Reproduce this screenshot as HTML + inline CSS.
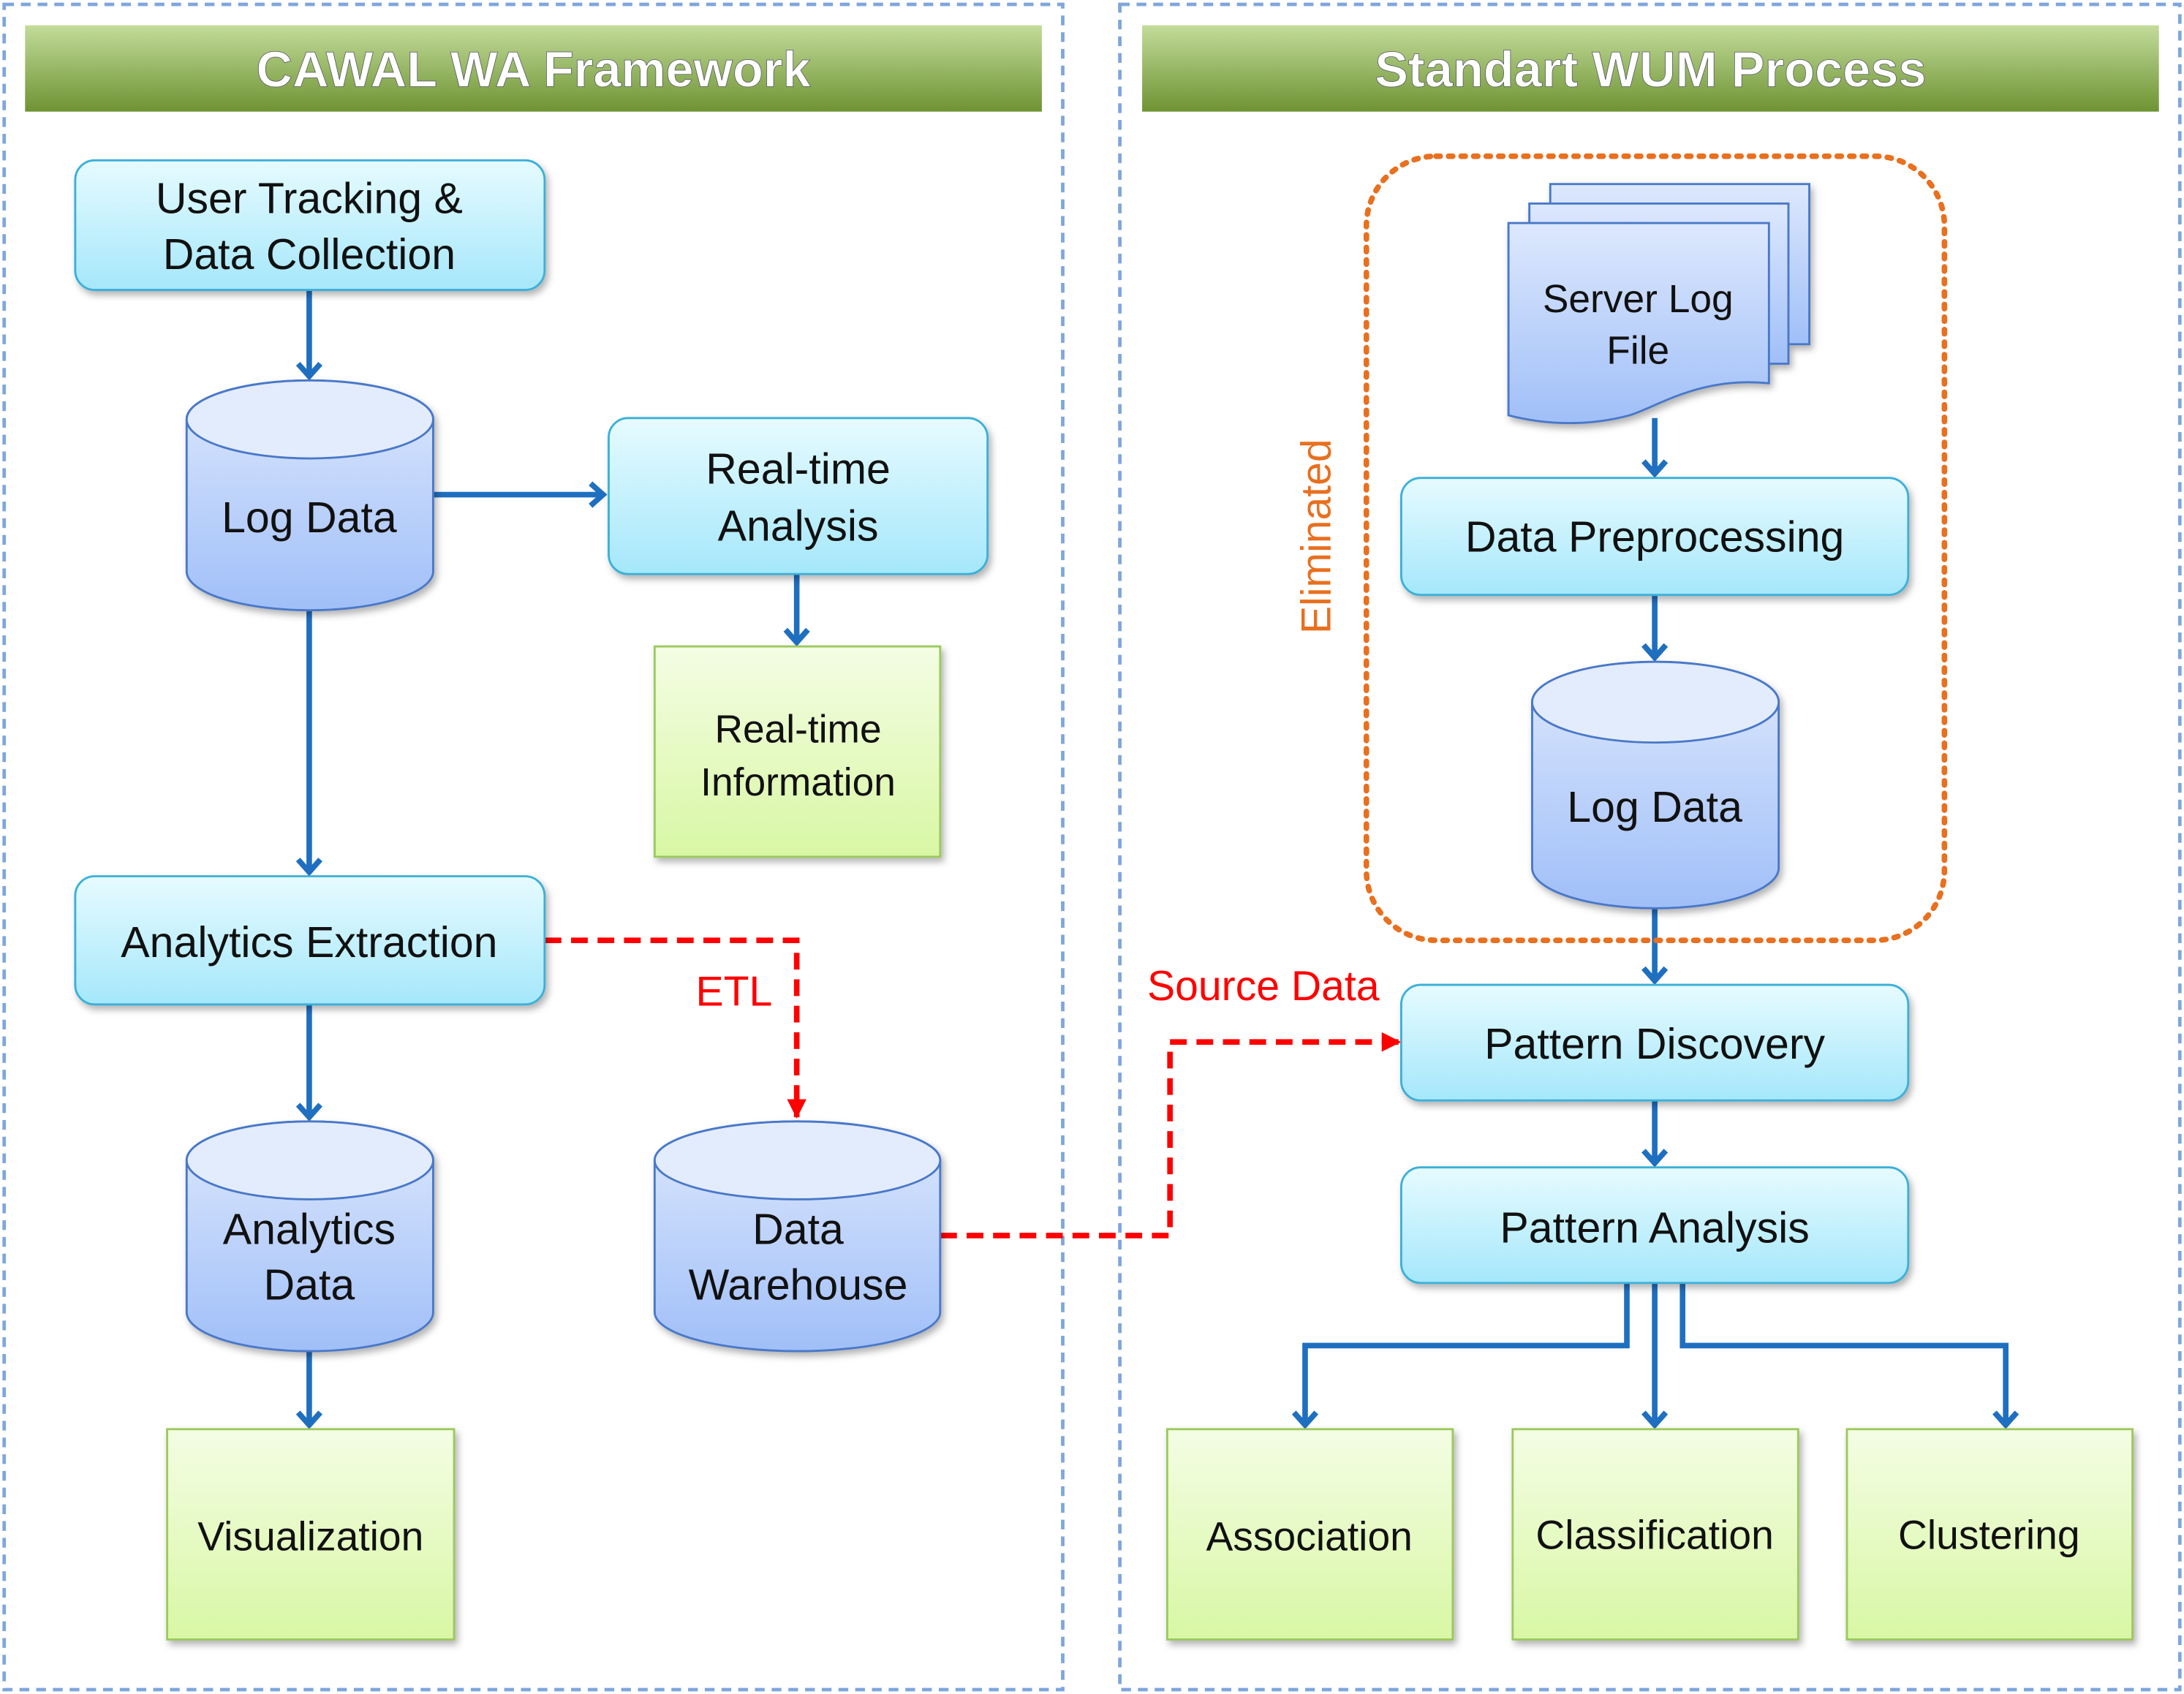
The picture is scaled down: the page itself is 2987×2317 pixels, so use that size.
<!DOCTYPE html>
<html><head><meta charset="utf-8">
<style>
html,body{margin:0;padding:0;background:#fff;}
svg{display:block;}
text{font-family:"Liberation Sans",sans-serif;}
</style></head>
<body>
<svg width="2987" height="2317" viewBox="0 0 1568 1216" xmlns="http://www.w3.org/2000/svg">
<defs>
<linearGradient id="hdr" x1="0" y1="0" x2="0" y2="1"><stop offset="0" stop-color="#c3dc9a"/><stop offset="1" stop-color="#6e9333"/></linearGradient>
<linearGradient id="cy" x1="0" y1="0" x2="0" y2="1"><stop offset="0" stop-color="#e6fbff"/><stop offset="1" stop-color="#a5e7fb"/></linearGradient>
<linearGradient id="gr" x1="0" y1="0" x2="0" y2="1"><stop offset="0" stop-color="#f4fde4"/><stop offset="1" stop-color="#d8f7a4"/></linearGradient>
<linearGradient id="bl" x1="0" y1="0" x2="0" y2="1"><stop offset="0" stop-color="#dde8fd"/><stop offset="1" stop-color="#a0bff8"/></linearGradient>
<filter id="sh" x="-10%" y="-10%" width="130%" height="130%"><feDropShadow dx="2" dy="3" stdDeviation="2.5" flood-color="#000" flood-opacity="0.3"/></filter>
<marker id="ab" markerWidth="16" markerHeight="20" refX="11" refY="10" orient="auto" markerUnits="userSpaceOnUse"><path d="M2,2 L11,10 L2,18" fill="none" stroke="#1f6fc0" stroke-width="4"/></marker>
<marker id="ar" markerWidth="16" markerHeight="16" refX="13" refY="8" orient="auto" markerUnits="userSpaceOnUse"><path d="M0,1 L14,8 L0,15 Z" fill="#f00"/></marker>
</defs>

<rect x="3" y="3" width="760" height="1210" fill="none" stroke="#7fa6dc" stroke-width="2.5" stroke-dasharray="7,5"/>
<rect x="804" y="3" width="761" height="1210" fill="none" stroke="#7fa6dc" stroke-width="2.5" stroke-dasharray="7,5"/>

<rect x="18" y="18" width="730" height="62" fill="url(#hdr)"/>
<rect x="820" y="18" width="730" height="62" fill="url(#hdr)"/>
<text x="383" y="62" text-anchor="middle" font-size="36" font-weight="bold" fill="#fff" stroke="#556" stroke-width="0.4">CAWAL WA Framework</text>
<text x="1185" y="62" text-anchor="middle" font-size="36" font-weight="bold" fill="#fff" stroke="#556" stroke-width="0.4">Standart WUM Process</text>

<g stroke="#1f6fc0" stroke-width="4" fill="none" marker-end="url(#ab)">
<line x1="222" y1="208" x2="222" y2="270"/>
<line x1="311" y1="355" x2="433" y2="355"/>
<line x1="572" y1="412" x2="572" y2="461"/>
<line x1="222" y1="438" x2="222" y2="626"/>
<line x1="222" y1="721" x2="222" y2="802"/>
<line x1="222" y1="970" x2="222" y2="1023"/>
<line x1="1188" y1="300" x2="1188" y2="340"/>
<line x1="1188" y1="427" x2="1188" y2="472"/>
<line x1="1188" y1="652" x2="1188" y2="704"/>
<line x1="1188" y1="790" x2="1188" y2="835"/>
<line x1="1188" y1="921" x2="1188" y2="1023"/>
<polyline points="1168,921 1168,966 937,966 937,1023"/>
<polyline points="1208,921 1208,966 1440,966 1440,1023"/>
</g>

<g stroke="#f00" stroke-width="4" fill="none" stroke-dasharray="12,7">
<polyline points="391,675 572,675 572,802" marker-end="url(#ar)"/>
<polyline points="675,887 840,887 840,748 1005,748" marker-end="url(#ar)"/>
</g>
<text x="527" y="722" text-anchor="middle" font-size="30" fill="#f00">ETL</text>
<text x="907" y="718" text-anchor="middle" font-size="30" fill="#f00">Source Data</text>

<rect x="981" y="112" width="415" height="563" rx="50" fill="none" stroke="#e8701f" stroke-width="4" stroke-dasharray="3,6" stroke-linecap="round"/>
<text transform="translate(955,385) rotate(-90)" text-anchor="middle" font-size="30" fill="#e8701f">Eliminated</text>

<g filter="url(#sh)" stroke="#3ab0d8" stroke-width="1.5">
<rect x="54" y="115" width="337" height="93" rx="14" fill="url(#cy)"/>
<rect x="437" y="300" width="272" height="112" rx="14" fill="url(#cy)"/>
<rect x="54" y="629" width="337" height="92" rx="14" fill="url(#cy)"/>
<rect x="1006" y="343" width="364" height="84" rx="14" fill="url(#cy)"/>
<rect x="1006" y="707" width="364" height="83" rx="14" fill="url(#cy)"/>
<rect x="1006" y="838" width="364" height="83" rx="14" fill="url(#cy)"/>
</g>
<g filter="url(#sh)" stroke="#9cc95c" stroke-width="1.5" fill="url(#gr)">
<rect x="470" y="464" width="205" height="151"/>
<rect x="120" y="1026" width="206" height="151"/>
<rect x="838" y="1026" width="205" height="151"/>
<rect x="1086" y="1026" width="205" height="151"/>
<rect x="1326" y="1026" width="205" height="151"/>
</g>
<g filter="url(#sh)" stroke="#4a78c8" stroke-width="1.5" fill="url(#bl)">
<path d="M134,301 A88.5,28 0 0 1 311,301 V410 A88.5,28 0 0 1 134,410 Z"/>
<ellipse cx="222.5" cy="301" rx="88.5" ry="28" fill="#e3ecfd"/>
<path d="M134,833 A88.5,28 0 0 1 311,833 V942 A88.5,28 0 0 1 134,942 Z"/>
<ellipse cx="222.5" cy="833" rx="88.5" ry="28" fill="#e3ecfd"/>
<path d="M470,833 A102.5,28 0 0 1 675,833 V942 A102.5,28 0 0 1 470,942 Z"/>
<ellipse cx="572.5" cy="833" rx="102.5" ry="28" fill="#e3ecfd"/>
<path d="M1100,504 A88.5,29 0 0 1 1277,504 V623 A88.5,29 0 0 1 1100,623 Z"/>
<ellipse cx="1188.5" cy="504" rx="88.5" ry="29" fill="#e3ecfd"/>
<rect x="1113" y="132" width="186" height="115"/>
<rect x="1098" y="146" width="186" height="115"/>
<path d="M1083,160 H1270 V275 C1220,270 1190,292 1170,298 C1140,306 1110,305 1083,298 Z"/>
</g>

<g font-size="31" fill="#111" text-anchor="middle">
<text x="222" y="153">User Tracking &amp;</text>
<text x="222" y="193">Data Collection</text>
<text x="222" y="382">Log Data</text>
<text x="573" y="347">Real-time</text>
<text x="573" y="388">Analysis</text>
<text x="573" y="533" font-size="28">Real-time</text>
<text x="573" y="571" font-size="28">Information</text>
<text x="222" y="687">Analytics Extraction</text>
<text x="222" y="893">Analytics</text>
<text x="222" y="933">Data</text>
<text x="573" y="893">Data</text>
<text x="573" y="933">Warehouse</text>
<text x="223" y="1113" font-size="29">Visualization</text>
<text x="1176" y="224" font-size="28">Server Log</text>
<text x="1176" y="261" font-size="28">File</text>
<text x="1188" y="396">Data Preprocessing</text>
<text x="1188" y="590">Log Data</text>
<text x="1188" y="760">Pattern Discovery</text>
<text x="1188" y="892">Pattern Analysis</text>
<text x="940" y="1113" font-size="29">Association</text>
<text x="1188" y="1112" font-size="29">Classification</text>
<text x="1428" y="1112" font-size="29">Clustering</text>
</g>
</svg>
</body></html>
